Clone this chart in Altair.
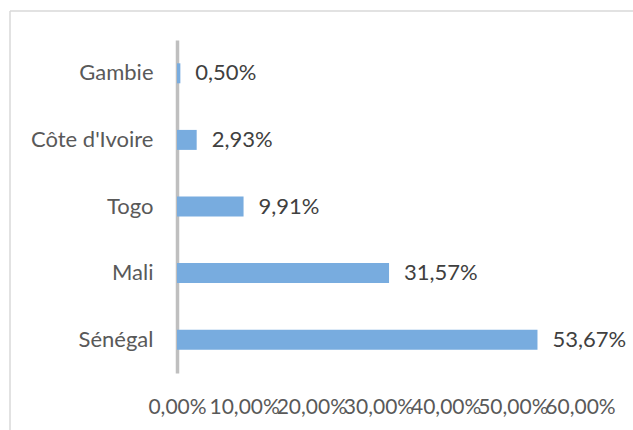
import altair as alt
import pandas as pd

countries = ["Gambie", "Côte d'Ivoire", "Togo", "Mali", "Sénégal"]
values = [0.50, 2.93, 9.91, 31.57, 53.67]
labels = ["0,50%", "2,93%", "9,91%", "31,57%", "53,67%"]
tick_values = [0, 10, 20, 30, 40, 50, 60]

df = pd.DataFrame({"pays": countries, "valeur": values, "label": labels})

FONT = "Lato"
FS = 22

y_enc = alt.Y(
    "pays:N",
    sort=countries,
    title=None,
    scale=alt.Scale(paddingInner=0.7, paddingOuter=0.35),
    axis=alt.Axis(
        ticks=False,
        domainColor="#BFBFBF",
        domainWidth=3.5,
        labelPadding=24,
        labelFont=FONT,
        labelFontSize=FS,
        labelColor="#595959",
    ),
)
x_enc = alt.X(
    "valeur:Q",
    title=None,
    scale=alt.Scale(domain=[0, 60], nice=False),
    axis=alt.Axis(
        values=tick_values,
        domain=False,
        ticks=False,
        grid=False,
        labelOverlap=False,
        labelFlush=False,
        labelPadding=23,
        labelFont=FONT,
        labelFontSize=21,
        labelColor="#595959",
        labelExpr="replace(format(datum.value, '.2f'), '.', ',') + '%'",
    ),
)

bars = alt.Chart(df).mark_bar(color="#78ACDF").encode(x=x_enc, y=y_enc)
text = alt.Chart(df).mark_text(
    align="left", baseline="middle", dx=15, font=FONT, fontSize=FS, color="#404040"
).encode(x="valeur:Q", y=alt.Y("pays:N", sort=countries), text="label:N")

frame = alt.Data(values=[{}])
top_line = alt.Chart(frame).mark_rule(color="#D9D9D9", strokeWidth=1.5).encode(
    x=alt.value(-167), x2=alt.value(470), y=alt.value(-29)
)
left_line = alt.Chart(frame).mark_rule(color="#D9D9D9", strokeWidth=1.5).encode(
    x=alt.value(-167), y=alt.value(-29), y2=alt.value(420)
)

chart = (
    alt.layer(top_line, left_line, bars, text)
    .properties(
        width=403,
        height=333,
        autosize=alt.AutoSizeParams(type="none"),
        padding={"left": 177, "top": 40, "right": 53, "bottom": 57},
        background="white",
    )
    .configure_view(stroke=None)
)

chart.save("out.html", embed_options={"renderer": "svg", "actions": False})
